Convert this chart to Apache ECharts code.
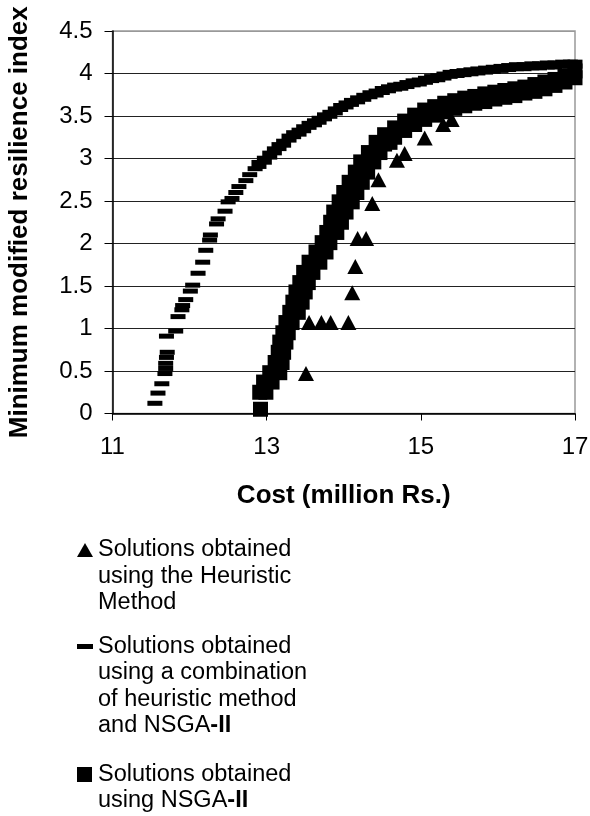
<!DOCTYPE html>
<html>
<head>
<meta charset="utf-8">
<script src="https://cdn.jsdelivr.net/npm/echarts@6/dist/echarts.min.js"></script>
<style>
html,body{margin:0;padding:0;background:#fff;}
#chart{width:590px;height:816px;}
</style>
</head>
<body>
<div id="chart"></div>
<script>
// ---- data ----
const xTicks = [11, 13, 15, 17];
const yTicks = [0, 0.5, 1, 1.5, 2, 2.5, 3, 3.5, 4, 4.5];
const xTitle = 'Cost (million Rs.)';
const yTitle = 'Minimum modified resilience index';
const seriesNames = [
  'Solutions obtained\nusing the Heuristic\nMethod',
  'Solutions obtained\nusing a combination\nof heuristic method\nand NSGA-II',
  'Solutions obtained\nusing NSGA-II'
];

const heuristicCost  = [13.51, 13.55, 13.71, 13.83, 14.06, 14.11, 14.15, 14.18, 14.29, 14.37, 14.45, 14.69, 14.79, 15.05, 15.29, 15.40];
const heuristicIndex = [0.47, 1.07, 1.07, 1.07, 1.07, 1.42, 1.73, 2.06, 2.06, 2.47, 2.75, 2.98, 3.06, 3.24, 3.40, 3.46];

const comboCost = [11.55, 11.59, 11.64, 11.68, 11.69, 11.69, 11.70, 11.71, 11.70, 11.82, 11.85, 11.90, 11.91, 11.95, 12.01, 12.04,
  12.11, 12.17, 12.21, 12.26, 12.27, 12.35, 12.37, 12.46, 12.50, 12.55, 12.60, 12.64, 12.73, 12.78, 12.85, 12.90,
  12.97, 13.04, 13.10, 13.16, 13.22, 13.29, 13.35, 13.42, 13.48, 13.55, 13.62, 13.68, 13.75, 13.82, 13.89, 13.96,
  14.03, 14.10, 14.18, 14.26, 14.34, 14.42, 14.50, 14.58, 14.66, 14.74, 14.82, 14.90, 14.98, 15.06, 15.14, 15.22,
  15.30, 15.38, 15.47, 15.56, 15.65, 15.74, 15.84, 15.94, 16.04, 16.14, 16.24, 16.34, 16.44, 16.54, 16.64, 16.74,
  16.84, 16.94, 17.00];
const comboIndex = [0.12, 0.24, 0.35, 0.47, 0.53, 0.59, 0.66, 0.72, 0.91, 0.97, 1.14, 1.22, 1.27, 1.34, 1.44, 1.51,
  1.65, 1.78, 1.92, 2.04, 2.10, 2.23, 2.29, 2.38, 2.49, 2.53, 2.60, 2.67, 2.74, 2.81, 2.88, 2.93,
  2.98, 3.04, 3.09, 3.14, 3.18, 3.24, 3.28, 3.31, 3.35, 3.39, 3.42, 3.45, 3.49, 3.52, 3.56, 3.60,
  3.63, 3.66, 3.69, 3.72, 3.75, 3.77, 3.80, 3.82, 3.84, 3.85, 3.87, 3.89, 3.90, 3.92, 3.94, 3.95,
  3.97, 3.99, 4.00, 4.01, 4.02, 4.03, 4.04, 4.05, 4.06, 4.07, 4.08, 4.08, 4.09, 4.09, 4.10, 4.10,
  4.11, 4.11, 4.11];

const nsgaCost = [12.92,
  12.91, 12.99, 12.96, 13.07, 13.04, 13.17, 13.11, 13.20, 13.15, 13.22, 13.17, 13.25, 13.21, 13.28,
  13.25, 13.33, 13.30, 13.41, 13.34, 13.46, 13.38, 13.50, 13.43, 13.54, 13.48, 13.60, 13.55, 13.69,
  13.64, 13.77, 13.72, 13.82, 13.78, 13.91, 13.83, 13.97, 13.87, 14.03, 13.94, 14.11, 14.00, 14.17,
  14.07, 14.24, 14.15, 14.31, 14.22, 14.39, 14.32, 14.47, 14.42, 14.60,
  14.53, 14.66, 14.79, 14.92, 15.05, 15.18, 15.31, 15.44, 15.57, 15.70, 15.83, 15.96, 16.09, 16.22,
  16.35, 16.48, 16.61, 16.74, 16.87, 17.00,
  14.53, 14.66, 14.79, 14.92, 15.05, 15.18, 15.31, 15.44, 15.57, 15.70, 15.83, 15.96, 16.09, 16.22,
  16.35, 16.48, 16.61, 16.74, 16.87, 17.00];
const nsgaIndex = [0.05,
  0.25, 0.25, 0.37, 0.37, 0.48, 0.48, 0.60, 0.60, 0.72, 0.72, 0.84, 0.84, 0.95, 0.95,
  1.07, 1.07, 1.19, 1.19, 1.31, 1.31, 1.43, 1.43, 1.54, 1.54, 1.66, 1.66, 1.78, 1.78,
  1.90, 1.90, 2.01, 2.01, 2.13, 2.13, 2.25, 2.25, 2.37, 2.37, 2.49, 2.49, 2.60, 2.60,
  2.72, 2.72, 2.84, 2.84, 2.96, 2.96, 3.07, 3.07, 3.19, 3.19,
  3.28, 3.36, 3.44, 3.51, 3.57, 3.61, 3.65, 3.68, 3.71, 3.73, 3.76, 3.78, 3.80, 3.82,
  3.84, 3.87, 3.90, 3.93, 3.97, 4.03,
  3.17, 3.25, 3.33, 3.40, 3.46, 3.51, 3.55, 3.59, 3.62, 3.65, 3.67, 3.70, 3.72, 3.74,
  3.77, 3.79, 3.82, 3.86, 3.90, 3.95];

// ---- build ----
function zip(a, b) { return a.map((v, i) => [v, b[i]]); }

const FONT = '"Liberation Sans", Arial, sans-serif';
const LH = 26.5;
const legendText = {
  fontFamily: FONT, fontSize: 23.5, color: '#000', lineHeight: LH,
  rich: { b: { fontFamily: FONT, fontSize: 23.5, fontWeight: 'bold', color: '#000', lineHeight: LH } }
};
function legendBase(name, icon, top, lines) {
  return {
    data: [{ name: name, icon: icon }],
    orient: 'vertical', left: 77, top: top, padding: 0, itemGap: 0,
    itemWidth: 16, itemHeight: lines * LH,
    selectedMode: false,
    itemStyle: { color: '#000', opacity: 1, borderWidth: 0 },
    textStyle: legendText,
    formatter: n => n.replace('-II', '{b|-II}')
  };
}

const splitColors = yTicks.map((t, i) => i === yTicks.length - 1 ? '#999' : '#222');

const chart = echarts.init(document.getElementById('chart'), null, { renderer: 'canvas' });
chart.setOption({
  animation: false,
  backgroundColor: '#fff',
  textStyle: { fontFamily: FONT },
  grid: {
    left: 112.5, right: 15, top: 31, bottom: 402.5,
    show: true, borderColor: '#999', borderWidth: 1.5, backgroundColor: 'transparent',
    outerBoundsMode: 'none'
  },
  legend: [
    legendBase(seriesNames[0], 'path://M0,20.25L8,6.25L16,20.25ZM0,0M16,79.5', 550 - LH / 2, 3),
    legendBase(seriesNames[1], 'path://M0,10.75H16V15.75H0ZM0,0M16,106', 646.5 - LH / 2, 4),
    legendBase(seriesNames[2], 'path://M0,5.75H15V20.75H0ZM0,0M16,53', 774.5 - LH / 2, 2)
  ],
  xAxis: {
    type: 'value', min: xTicks[0], max: xTicks[xTicks.length - 1], interval: xTicks[1] - xTicks[0],
    name: xTitle, nameLocation: 'middle', nameGap: 69,
    nameTextStyle: { fontFamily: FONT, fontSize: 26, fontWeight: 'bold', color: '#000' },
    axisLine: { show: true, onZero: false, lineStyle: { color: '#000', width: 1.5 } },
    axisTick: { show: true, length: 7, lineStyle: { color: '#000', width: 1 } },
    axisLabel: { margin: 22, fontFamily: FONT, fontSize: 24, color: '#000' },
    splitLine: { show: false }
  },
  yAxis: {
    type: 'value', min: yTicks[0], max: yTicks[yTicks.length - 1], interval: yTicks[1] - yTicks[0],
    name: yTitle, nameLocation: 'middle', nameRotate: 90, nameGap: 80,
    nameTextStyle: { fontFamily: FONT, fontSize: 26, fontWeight: 'bold', color: '#000' },
    axisLine: { show: true, lineStyle: { color: '#000', width: 1.5 } },
    axisTick: { show: true, length: 8, lineStyle: { color: '#000', width: 1 } },
    axisLabel: { margin: 20, fontFamily: FONT, fontSize: 24, color: '#000' },
    splitLine: { show: true, lineStyle: { color: splitColors, width: 1 } }
  },
  series: [
    {
      type: 'scatter', name: seriesNames[0], data: zip(heuristicCost, heuristicIndex),
      symbol: 'triangle', symbolSize: [16, 15],
      itemStyle: { color: '#000', opacity: 1 }, z: 4
    },
    {
      type: 'scatter', name: seriesNames[1], data: zip(comboCost, comboIndex),
      symbol: 'rect', symbolSize: v => (v[1] > 2.9 ? [15, 9] : [15, 5]),
      itemStyle: { color: '#000', opacity: 1 }, z: 3
    },
    {
      type: 'scatter', name: seriesNames[2], data: zip(nsgaCost, nsgaIndex),
      symbol: 'rect', symbolSize: 15,
      itemStyle: { color: '#000', opacity: 1 }, z: 3
    }
  ]
});
</script>
</body>
</html>
